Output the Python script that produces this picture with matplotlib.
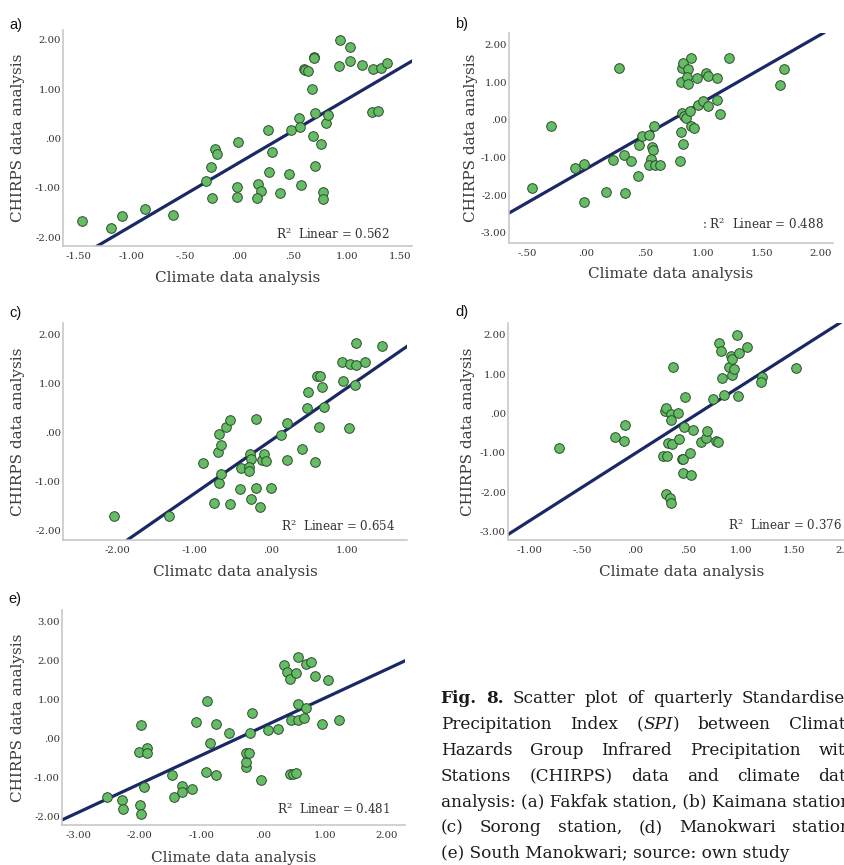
import matplotlib
matplotlib.use("Agg")
import matplotlib.pyplot as plt
from matplotlib.ticker import FixedLocator, FuncFormatter

plt.rcParams['font.family'] = ['DejaVu Serif']
plt.rcParams['mathtext.fontset'] = 'dejavuserif'

W, H, DPI = 845, 865, 100

# ---------------- data ----------------
# (a) Fakfak
a_x = [-1.46, -1.19, -1.09, -0.88, -0.62, -0.31, -0.26, -0.25, -0.22, -0.21,
       -0.01, -0.02, -0.02, 0.18, 0.20, 0.17, 0.27, 0.28, 0.31, 0.38,
       0.46, 0.48, 0.56, 0.57, 0.58, 0.60, 0.61, 0.64, 0.68, 0.69,
       0.70, 0.70, 0.71, 0.71, 0.76, 0.78, 0.78, 0.81, 0.83, 0.93,
       0.94, 1.03, 1.03, 1.14, 1.24, 1.29, 1.25, 1.32, 1.38]
a_y = [-1.67, -1.82, -1.57, -1.42, -1.56, -0.87, -0.57, -1.20, -0.22, -0.31,
       -0.08, -0.99, -1.19, -0.93, -1.06, -1.21, 0.18, -0.68, -0.27, -1.11,
       -0.72, 0.18, 0.42, 0.24, -0.94, 1.41, 1.38, 1.36, 1.01, 0.05,
       1.65, 1.63, 0.51, -0.55, -0.11, -1.09, -1.23, 0.32, 0.47, 1.47,
       1.99, 1.86, 1.57, 1.49, 0.53, 0.55, 1.41, 1.43, 1.53]

# (b) Kaimana
b_x = [-0.46, -0.30, -0.10, -0.02, -0.02, 0.17, 0.23, 0.28, 0.32, 0.33,
       0.38, 0.44, 0.45, 0.48, 0.54, 0.56, 0.57, 0.55, 0.54, 0.58,
       0.59, 0.63, 0.80, 0.81, 0.83, 0.82, 0.84, 0.85, 0.81, 0.82,
       0.83, 0.87, 0.86, 0.87, 0.89, 0.90, 0.92, 0.90, 0.95, 0.96,
       1.00, 1.02, 1.04, 1.04, 1.12, 1.12, 1.14, 1.22, 1.66, 1.69]
b_y = [-1.81, -0.17, -1.27, -1.18, -2.17, -1.91, -1.06, 1.37, -0.92, -1.95,
       -1.08, -1.49, -0.67, -0.42, -0.40, -0.73, -0.79, -1.04, -1.20, -0.16,
       -1.20, -1.20, -1.10, -0.33, -0.65, 0.19, 0.10, 0.05, 1.00, 1.38,
       1.50, 1.35, 1.14, 0.96, 0.23, -0.17, -0.22, 1.64, 1.11, 0.41,
       0.49, 1.25, 1.16, 0.36, 1.11, 0.52, 0.15, 1.65, 0.93, 1.35]

# (c) Sorong
c_x = [-2.05, -1.32, -0.88, -0.74, -0.68, -0.69, -0.67, -0.65, -0.65, -0.58,
       -0.53, -0.53, -0.39, -0.40, -0.27, -0.26, -0.28, -0.28, -0.25, -0.19,
       -0.19, -0.14, -0.11, -0.08, -0.06, 0.00, 0.13, 0.22, 0.22, 0.41,
       0.48, 0.49, 0.58, 0.60, 0.63, 0.65, 0.67, 0.70, 0.93, 0.94,
       1.02, 1.03, 1.10, 1.11, 1.12, 1.23, 1.45]
c_y = [-1.71, -1.70, -0.63, -1.45, -0.03, -0.40, -1.04, -0.84, -0.25, 0.12,
       -1.47, 0.25, -0.73, -1.15, -0.44, -0.54, -0.71, -0.78, -1.36, 0.28,
       -1.14, -1.52, -0.57, -0.45, -0.59, -1.14, -0.06, 0.20, -0.56, -0.34,
       0.50, 0.83, -0.61, 1.16, 0.11, 1.15, 0.93, 0.52, 1.44, 1.06,
       0.09, 1.41, 0.98, 1.84, 1.39, 1.44, 1.76]

# (d) Manokwari
d_x = [-0.72, -0.19, -0.11, -0.10, 0.26, 0.30, 0.29, 0.33, 0.34, 0.28,
       0.29, 0.31, 0.35, 0.34, 0.34, 0.36, 0.40, 0.41, 0.44, 0.45,
       0.45, 0.46, 0.47, 0.52, 0.53, 0.55, 0.62, 0.67, 0.68, 0.74,
       0.76, 0.78, 0.79, 0.81, 0.82, 0.84, 0.89, 0.91, 0.92, 0.92,
       0.93, 0.96, 0.97, 0.98, 1.06, 1.20, 1.19, 1.52]
d_y = [-0.88, -0.60, -0.69, -0.28, -1.08, -1.07, -2.05, -2.15, -2.27, 0.07,
       0.14, -0.75, -0.78, -0.02, -0.16, 1.19, 0.01, -0.64, -1.16, -1.52,
       -1.16, -0.35, 0.41, -1.00, -1.55, -0.42, -0.73, -0.63, -0.43, 0.37,
       -0.69, -0.71, 1.78, 1.58, 0.91, 0.46, 1.19, 1.45, 1.39, 0.98,
       1.14, 2.00, 0.45, 1.54, 1.69, 0.94, 0.81, 1.17]

# (e) South Manokwari
e_x = [-2.53, -2.29, -2.27, -1.98, -2.01, -1.89, -1.89, -1.99, -1.98, -1.93,
       -1.48, -1.45, -1.32, -1.31, -1.16, -1.09, -0.92, -0.91, -0.86, -0.77,
       -0.76, -0.56, -0.28, -0.27, -0.27, -0.23, -0.22, -0.18, -0.04, 0.08,
       0.24, 0.34, 0.38, 0.43, 0.44, 0.45, 0.49, 0.53, 0.54, 0.57,
       0.57, 0.57, 0.66, 0.69, 0.70, 0.78, 0.84, 0.95, 1.05, 1.23]
e_y = [-1.50, -1.59, -1.81, 0.33, -0.34, -0.24, -0.38, -1.72, -1.94, -1.25,
       -0.95, -1.50, -1.23, -1.38, -1.31, 0.43, -0.87, 0.97, -0.13, -0.95,
       0.36, 0.14, -0.73, -0.62, -0.37, -0.39, 0.13, 0.66, -1.07, 0.21,
       0.23, 1.88, 1.71, 1.52, -0.93, 0.47, -0.93, 1.67, -0.90, 2.10,
       0.87, 0.48, 0.51, 0.77, 1.91, 1.95, 1.60, 0.38, 1.51, 0.47]

# fitted lines: (slope, intercept)
fit_slope = [1.28, 1.78, 1.085, 1.71, 0.736]
fit_intercept = [-0.49, -1.30, -0.17, -1.01, 0.30]
r2_values = [0.562, 0.488, 0.654, 0.376, 0.481]
r2_prefix = ["", ": ", "", "", ""]

# tick values
a_xticks = [-1.5, -1.0, -0.5, 0.0, 0.5, 1.0, 1.5]
a_yticks = [-2.0, -1.0, 0.0, 1.0, 2.0]
b_xticks = [-0.5, 0.0, 0.5, 1.0, 1.5, 2.0]
b_yticks = [-3.0, -2.0, -1.0, 0.0, 1.0, 2.0]
c_xticks = [-2.0, -1.0, 0.0, 1.0]
c_yticks = [-2.0, -1.0, 0.0, 1.0, 2.0]
d_xticks = [-1.0, -0.5, 0.0, 0.5, 1.0, 1.5, 2.0]
d_yticks = [-3.0, -2.0, -1.0, 0.0, 1.0, 2.0]
e_xticks = [-3.0, -2.0, -1.0, 0.0, 1.0, 2.0]
e_yticks = [-2.0, -1.0, 0.0, 1.0, 2.0, 3.0]

panel_letters = ["a)", "b)", "c)", "d)", "e)"]
x_labels = ["Climate data analysis", "Climate data analysis", "Climatc data analysis",
            "Climate data analysis", "Climate data analysis"]
y_label = "CHIRPS data analysis"

# ---------------- layout (pixels) ----------------
layout = [
    dict(box=(63, 412, 30, 246), xlim=(-1.64, 1.61), ylim=(-2.18, 2.20),
         ylab_x=18, xlab_y=278, letter=(9, 29), r2=(390, 234)),
    dict(box=(509, 833, 33, 243), xlim=(-0.66, 2.11), ylim=(-3.27, 2.31),
         ylab_x=471, xlab_y=274, letter=(455, 28), r2=(824, 224)),
    dict(box=(63, 407, 323, 540), xlim=(-2.71, 1.78), ylim=(-2.20, 2.24),
         ylab_x=18, xlab_y=572, letter=(9, 317), r2=(395, 526)),
    dict(box=(508, 855, 323, 540), xlim=(-1.205, 2.08), ylim=(-3.21, 2.30),
         ylab_x=468, xlab_y=572, letter=(455, 316), r2=(842, 525)),
    dict(box=(62, 405, 610, 825), xlim=(-3.26, 2.30), ylim=(-2.23, 3.30),
         ylab_x=18, xlab_y=858, letter=(8, 603), r2=(390, 809)),
]

xs = [a_x, b_x, c_x, d_x, e_x]
ys = [a_y, b_y, c_y, d_y, e_y]
xticks = [a_xticks, b_xticks, c_xticks, d_xticks, e_xticks]
yticks = [a_yticks, b_yticks, c_yticks, d_yticks, e_yticks]


def spss_fmt(v, pos=None):
    s = f"{v:.2f}"
    if s == "-0.00":
        s = "0.00"
    if s.startswith("0."):
        s = s[1:]
    elif s.startswith("-0."):
        s = "-" + s[2:]
    return s


fig = plt.figure(figsize=(W / DPI, H / DPI), dpi=DPI)

MARKER_FACE = "#64bd64"
MARKER_EDGE = "#2e4a2e"
LINE_COLOR = "#1a2866"
SPINE_COLOR = "#c4c4c4"

for i, L in enumerate(layout):
    x0, x1, top, bot = L["box"]
    ax = fig.add_axes([x0 / W, 1 - bot / H, (x1 - x0) / W, (bot - top) / H])
    ax.set_xlim(*L["xlim"])
    ax.set_ylim(*L["ylim"])
    ax.scatter(xs[i], ys[i], s=48, c=MARKER_FACE, edgecolors=MARKER_EDGE,
               linewidths=0.7, zorder=3)
    ax.axline((0, fit_intercept[i]), slope=fit_slope[i], color=LINE_COLOR,
              lw=2.3, zorder=2)
    for side in ("top", "right"):
        ax.spines[side].set_visible(False)
    for side in ("left", "bottom"):
        ax.spines[side].set_color(SPINE_COLOR)
        ax.spines[side].set_linewidth(1.1)
    ax.xaxis.set_major_locator(FixedLocator(xticks[i]))
    ax.yaxis.set_major_locator(FixedLocator(yticks[i]))
    ax.xaxis.set_major_formatter(FuncFormatter(spss_fmt))
    ax.yaxis.set_major_formatter(FuncFormatter(spss_fmt))
    ax.tick_params(axis="both", length=0, labelsize=7.3, colors="#333333")
    ax.tick_params(axis="y", pad=1.5)
    ax.tick_params(axis="x", pad=4)
    ax.patch.set_visible(False)

    xl = ax.set_xlabel(x_labels[i], fontsize=11, color="#3a3a3a")
    xl.set_va("center")
    ax.xaxis.set_label_coords(0.5, (bot - L["xlab_y"]) / (bot - top))
    yl = ax.set_ylabel(y_label, fontsize=11, color="#3a3a3a")
    yl.set_va("center")
    ax.yaxis.set_label_coords((L["ylab_x"] - x0) / (x1 - x0), 0.5)

    rx, ry = L["r2"]
    fig.text(rx / W, 1 - ry / H,
             f"{r2_prefix[i]}R$^2$  Linear = {r2_values[i]:.3f}",
             ha="right", va="center", fontsize=8.6, color="#333333")

    lx, ly = L["letter"]
    fig.text(lx / W, 1 - ly / H, panel_letters[i], ha="left", va="baseline",
             fontsize=10.5, family=["Liberation Sans", "DejaVu Sans"],
             color="#111111")

# ---------------- caption (justified paragraph, cut at the right edge) ----
CAP_SIZE = 12.2
CAP_LEFT = 440.7
CAP_RIGHT = 856.0
cap_baselines = [703, 729, 755, 781, 807, 832, 858]
justified = {
    0: [[("Fig.", "bold")], [("8.", "bold")], [("Scatter", "")], [("plot", "")],
        [("of", "")], [("quarterly", "")], [("Standardised", "")]],
    1: [[("Precipitation", "")], [("Index", "")],
        [("(", ""), ("SPI", "italic"), (")", "")], [("between", "")],
        [("Climate", "")]],
    2: [[("Hazards", "")], [("Group", "")], [("Infrared", "")],
        [("Precipitation", "")], [("with", "")]],
    3: [[("Stations", "")], [("(CHIRPS)", "")], [("data", "")], [("and", "")],
        [("climate", "")], [("data", "")]],
    5: [[("(c)", "")], [("Sorong", "")], [("station,", "")], [("(d)", "")],
        [("Manokwari", "")], [("station,", "")]],
}
plain = {
    4: "analysis: (a) Fakfak station, (b) Kaimana station,",
    6: "(e) South Manokwari; source: own study",
}

renderer = fig.canvas.get_renderer()
for li, words in justified.items():
    yb = 1 - cap_baselines[li] / H
    placed = []
    widths = []
    for word in words:
        segs = []
        wsum = 0.0
        for seg, style in word:
            kw = dict(fontsize=CAP_SIZE, va="baseline", ha="left", color="#1a1a1a")
            if style == "bold":
                kw["fontweight"] = "bold"
            if style == "italic":
                kw["fontstyle"] = "italic"
            t = fig.text(0, yb, seg, **kw)
            sw = t.get_window_extent(renderer).width
            segs.append((t, sw))
            wsum += sw
        placed.append(segs)
        widths.append(wsum)
    gap = (CAP_RIGHT - CAP_LEFT - sum(widths)) / (len(words) - 1)
    x = CAP_LEFT
    for segs, wsum in zip(placed, widths):
        xx = x
        for t, sw in segs:
            t.set_x(xx / W)
            xx += sw
        x += wsum + gap
for li, s in plain.items():
    fig.text(CAP_LEFT / W, 1 - cap_baselines[li] / H, s, fontsize=CAP_SIZE,
             va="baseline", ha="left", color="#1a1a1a")

fig.savefig("out.png", dpi=DPI)
